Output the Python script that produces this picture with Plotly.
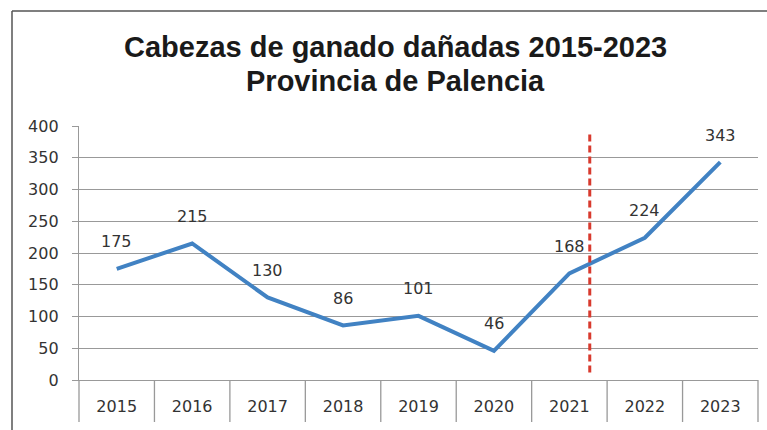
import plotly.graph_objects as go

years = ["2015", "2016", "2017", "2018", "2019", "2020", "2021", "2022", "2023"]
heads = [175, 215, 130, 86, 101, 46, 168, 224, 343]
y_ticks = [0, 50, 100, 150, 200, 250, 300, 350, 400]
title_lines = ["Cabezas de ganado dañadas 2015-2023", "Provincia de Palencia"]
marker_line_x = 6.27
marker_line_y = [12, 387]

W, H = 767, 430
L, R, T, B = 79, 9, 126, 50
pw, ph = W - L - R, H - T - B

def px_x(p):
    return (p - L) / pw

def px_y(p):
    return (H - B - p) / ph

tick_font = dict(family="DejaVu Sans", size=16, color="#333333")

fig = go.Figure()
fig.add_trace(go.Scatter(
    x=list(range(len(years))), y=heads, mode="lines",
    line=dict(color="#4182C3", width=4),
    hoverinfo="skip", showlegend=False,
))

for i, v in enumerate(heads):
    fig.add_annotation(x=i, y=v, xref="x", yref="y", text=str(v), showarrow=False,
                       yshift=27, font=tick_font)

for line, cy in zip(title_lines, [47, 81]):
    fig.add_annotation(x=px_x(395), y=px_y(cy), xref="paper", yref="paper",
                       text="<b>%s</b>" % line, showarrow=False,
                       xanchor="center", yanchor="middle",
                       font=dict(family="Liberation Sans", size=29, color="#1a1a1a"))

shapes = []
n = len(years)
for i in range(n + 1):
    shapes.append(dict(type="line", xref="paper", yref="paper",
                       x0=i / n, x1=i / n, y0=0, y1=px_y(422),
                       line=dict(color="#999999", width=1.3)))
shapes.append(dict(type="line", xref="x", yref="y",
                   x0=marker_line_x, x1=marker_line_x,
                   y0=marker_line_y[0], y1=marker_line_y[1],
                   line=dict(color="#D83A2E", width=3, dash="7px,4px")))
shapes.append(dict(type="line", xref="paper", yref="paper",
                   x0=px_x(12), x1=px_x(770), y0=px_y(11), y1=px_y(11),
                   line=dict(color="#555555", width=1.5)))
shapes.append(dict(type="line", xref="paper", yref="paper",
                   x0=px_x(12), x1=px_x(12), y0=px_y(11), y1=px_y(432),
                   line=dict(color="#555555", width=1.5)))

fig.update_layout(
    width=W, height=H,
    margin=dict(l=L, r=R, t=T, b=B),
    paper_bgcolor="white", plot_bgcolor="white",
    shapes=shapes,
    xaxis=dict(range=[-0.5, n - 0.5], showgrid=False, zeroline=False,
               tickvals=list(range(n)), ticktext=years,
               showline=True, linecolor="#999999", linewidth=1.3,
               ticks="", tickfont=tick_font, ticklabelstandoff=12,
               fixedrange=True),
    yaxis=dict(range=[0, 400], tickvals=y_ticks, showgrid=True,
               gridcolor="#999999", gridwidth=1.3, zeroline=False,
               showline=True, linecolor="#999999", linewidth=1.3,
               ticks="outside", ticklen=6, tickcolor="#999999", tickwidth=1.3,
               tickfont=tick_font, ticklabelstandoff=10, fixedrange=True),
)

fig.write_html("out.html")
